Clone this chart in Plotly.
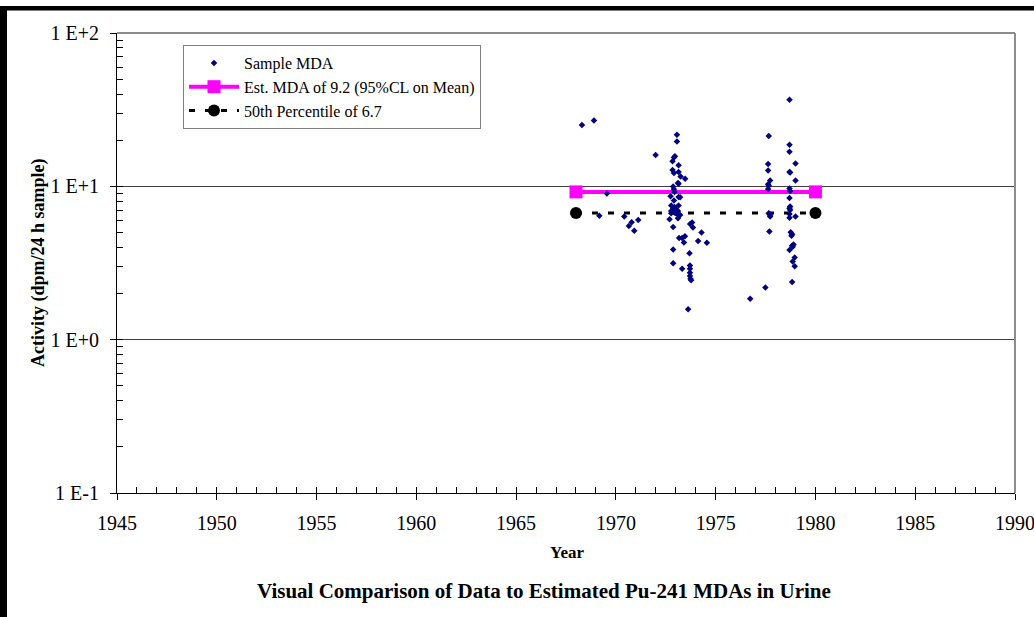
import plotly.graph_objects as go

# ---------------- data ----------------
sample_year = [
    1968.30, 1968.90, 1973.06, 1973.06, 1971.99, 1972.96, 1972.91, 1972.84, 1973.14, 1972.84,
    1973.14, 1972.91, 1973.24, 1973.47, 1973.11, 1973.14, 1972.87, 1972.91, 1972.94, 1969.55,
    1972.74, 1973.14, 1973.22, 1972.91, 1972.77, 1973.14, 1972.94, 1972.87, 1973.01, 1972.77,
    1973.11, 1973.01, 1972.77, 1973.14, 1973.22, 1972.94, 1969.17, 1970.42, 1972.69, 1973.11,
    1971.12, 1970.79, 1970.65, 1970.92, 1973.82, 1973.72, 1973.86, 1972.87, 1974.29, 1973.46,
    1973.32, 1973.17, 1973.41, 1974.12, 1974.56, 1972.87, 1973.69, 1972.87, 1973.32, 1973.71,
    1973.71, 1973.71, 1973.71, 1973.74, 1973.77, 1973.62,
    1978.70, 1977.66, 1978.70, 1978.70, 1977.63, 1979.00, 1977.63, 1978.70, 1978.73, 1977.73,
    1979.00, 1977.63, 1977.66, 1977.63, 1978.70, 1978.73, 1978.70, 1978.73, 1978.70, 1978.73,
    1978.70, 1978.70, 1979.00, 1977.66, 1977.73, 1977.73, 1977.69, 1977.69, 1978.76, 1978.83,
    1978.80, 1978.90, 1978.86, 1978.83, 1978.70, 1978.96, 1978.86, 1978.96, 1978.83, 1977.49,
    1976.73,
]
sample_mda = [
    25.1, 26.9, 21.7, 19.6, 16.0, 15.7, 15.4, 14.6, 13.7, 12.8,
    12.4, 12.2, 11.6, 11.2, 10.5, 10.4, 9.96, 9.57, 9.2, 8.97,
    8.62, 8.53, 8.49, 8.07, 7.49, 7.49, 7.34, 7.16, 7.05, 6.91,
    6.91, 6.67, 6.67, 6.51, 6.51, 6.74, 6.44, 6.35, 6.10, 6.19,
    6.04, 5.83, 5.51, 5.14, 5.80, 5.68, 5.38, 5.43, 4.99, 4.72,
    4.60, 4.60, 4.31, 4.40, 4.29, 3.88, 3.66, 3.15, 2.90, 3.05,
    2.90, 2.73, 2.60, 2.50, 2.44, 1.58,
    36.7, 21.3, 18.7, 16.8, 14.0, 14.1, 12.7, 12.4, 12.3, 10.9,
    10.9, 10.3, 10.1, 9.62, 9.67, 9.34, 8.40, 7.38, 7.19, 7.01,
    6.60, 6.25, 6.35, 6.67, 6.51, 6.35, 6.60, 5.07, 5.01, 4.87,
    4.77, 4.17, 4.04, 4.10, 3.85, 3.43, 3.23, 3.01, 2.38, 2.19,
    1.85,
]
est_year = [1968, 1980]
est_mda = [9.2, 9.2]
p50_year = [1968, 1980]
p50_mda = [6.7, 6.7]

x_major = [1945, 1950, 1955, 1960, 1965, 1970, 1975, 1980, 1985, 1990]
x_minor = list(range(1945, 1991))
y_major = [0.1, 1, 10, 100]
y_major_text = ["1 E-1", "1 E+0", "1 E+1", "1 E+2"]
y_minor = [k * 10.0 ** e for e in (-1, 0, 1) for k in range(1, 10)] + [100]

FONT = "Liberation Serif"

fig = go.Figure()

fig.add_trace(go.Scatter(
    x=est_year, y=est_mda, mode="lines+markers",
    name="Est. MDA of 9.2 (95%CL on Mean)",
    line=dict(color="#FF00FF", width=4),
    marker=dict(symbol="square", size=13, color="#FF00FF"),
    legendrank=2,
))
fig.add_trace(go.Scatter(
    x=p50_year, y=p50_mda, mode="lines+markers",
    name="50th Percentile of 6.7",
    line=dict(color="black", width=3, dash="6px,10px"),
    marker=dict(symbol="circle", size=12, color="black"),
    legendrank=3,
))
fig.add_trace(go.Scatter(
    x=sample_year, y=sample_mda, mode="markers",
    name="Sample MDA",
    marker=dict(symbol="diamond", size=5, color="#000080"),
    legendrank=1,
))
# helper (empty) trace for the overlay axes that draw inside ticks
fig.add_trace(go.Scatter(x=[], y=[], xaxis="x2", yaxis="y2",
                         showlegend=False, hoverinfo="skip"))

W, H = 1034, 617
L, R, T, B = 117, 19, 33, 124
pw, ph = W - L - R, H - T - B


def px(xp):
    return (xp - L) / pw


def py(yp):
    return 1 - (yp - T) / ph


fig.update_layout(
    width=W, height=H,
    margin=dict(l=L, r=R, t=T, b=B, autoexpand=False),
    paper_bgcolor="white", plot_bgcolor="white",
    font=dict(family=FONT, color="black"),
    showlegend=True,
    legend=dict(
        x=px(183), y=py(45), xanchor="left", yanchor="top",
        bgcolor="white", bordercolor="#808080", borderwidth=1,
        font=dict(family=FONT, size=16, color="black"),
        itemwidth=50, tracegroupgap=0,
    ),
    xaxis=dict(
        range=[1945, 1990], tickvals=x_major, ticks="outside", ticklen=6,
        tickcolor="black", tickwidth=1, showline=True, linecolor="black",
        linewidth=1, showgrid=False, zeroline=False, automargin=False,
        tickfont=dict(family=FONT, size=20, color="black"),
        ticklabelstandoff=6, ticklabeloverflow="allow",
    ),
    xaxis2=dict(
        range=[1945, 1990], overlaying="x", anchor="y", side="bottom",
        tickvals=x_minor, ticks="inside", ticklen=6, tickcolor="black",
        showticklabels=False, showgrid=False, showline=False, zeroline=False,
        automargin=False,
    ),
    yaxis=dict(
        type="log", range=[-1, 2], tickvals=y_major, ticktext=y_major_text,
        ticks="outside", ticklen=6, tickcolor="black", tickwidth=1,
        showline=True, linecolor="black", linewidth=1,
        showgrid=True, gridcolor="#404040", gridwidth=1, zeroline=False,
        tickfont=dict(family=FONT, size=20, color="black"), automargin=False,
        ticklabelstandoff=7, ticklabeloverflow="allow",
    ),
    yaxis2=dict(
        type="log", range=[-1, 2], overlaying="y", anchor="x", side="left",
        tickvals=y_minor, ticks="inside", ticklen=6, tickcolor="black",
        showticklabels=False, showgrid=False, showline=False, zeroline=False,
        automargin=False,
    ),
    shapes=[
        # plot-area frame (top and right)
        dict(type="line", xref="paper", yref="paper", x0=0, x1=1, y0=1, y1=1,
             line=dict(color="#8c8c8c", width=2)),
        dict(type="line", xref="paper", yref="paper", x0=1, x1=1, y0=0, y1=1,
             line=dict(color="#8c8c8c", width=2)),
        # outer black border (top and left)
        dict(type="rect", xref="paper", yref="paper",
             x0=px(-5), x1=px(7), y0=py(630), y1=py(6),
             line=dict(width=0), fillcolor="black", layer="above"),
        dict(type="rect", xref="paper", yref="paper",
             x0=px(-5), x1=px(1045), y0=py(10.5), y1=py(6),
             line=dict(width=0), fillcolor="black", layer="above"),
    ],
    annotations=[
        dict(text="<b>Activity (dpm/24 h sample)</b>", xref="paper", yref="paper",
             x=px(38), y=py(263), textangle=-90, showarrow=False,
             font=dict(family=FONT, size=18, color="black"),
             xanchor="center", yanchor="middle"),
        dict(text="<b>Year</b>", xref="paper", yref="paper",
             x=px(567), y=py(552), showarrow=False,
             font=dict(family=FONT, size=17, color="black"),
             xanchor="center", yanchor="middle"),
        dict(text="<b>Visual Comparison of Data to Estimated Pu-241 MDAs in Urine</b>",
             xref="paper", yref="paper", x=px(543.5), y=py(591), showarrow=False,
             font=dict(family=FONT, size=21, color="black"),
             xanchor="center", yanchor="middle"),
    ],
)

fig.write_html("out.html", config={"displayModeBar": False},
               post_script="document.body.style.margin='0px';")
